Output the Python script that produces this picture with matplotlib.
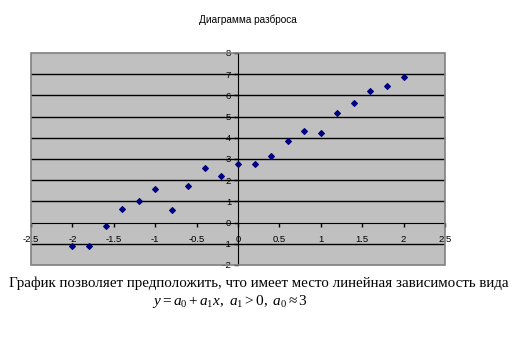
import matplotlib
matplotlib.use("Agg")
import matplotlib.pyplot as plt
from matplotlib.patches import Rectangle

# data
x_vals = [-2.0, -1.8, -1.6, -1.4, -1.2, -1.0, -0.8, -0.6, -0.4, -0.2, 0.0,
          0.2, 0.4, 0.6, 0.8, 1.0, 1.2, 1.4, 1.6, 1.8, 2.0]
y_vals = [-1.10, -1.09, -0.15, 0.66, 1.02, 1.60, 0.59, 1.71, 2.56, 2.21, 2.75,
          2.78, 3.12, 3.83, 4.31, 4.21, 5.15, 5.63, 6.21, 6.46, 6.85]
x_ticks = [-2.5, -2, -1.5, -1, -0.5, 0, 0.5, 1, 1.5, 2, 2.5]
x_labels = ["-2.5", "-2", "-1.5", "-1", "-0.5", "0", "0.5", "1", "1.5", "2", "2.5"]
y_ticks = list(range(-2, 9))

title = "Диаграмма разброса"
caption1 = "График позволяет предположить, что имеет место линейная зависимость вида"
caption2 = r"$y = a_0 + a_1x,\ a_1 > 0,\ a_0 \approx 3$"

plt.rcParams['font.family'] = ['Liberation Sans', 'DejaVu Sans']
plt.rcParams['mathtext.fontset'] = 'custom'
plt.rcParams['mathtext.rm'] = 'Liberation Serif'
plt.rcParams['mathtext.it'] = 'Liberation Serif:italic'

fig = plt.figure(figsize=(5.18, 3.6), dpi=100)
ax = fig.add_axes([31/518, 1 - 265/360, 414/518, 212/360])
ax.set_facecolor('#c0c0c0')

ax.set_xlim(-2.5, 2.5)
ax.set_ylim(-2, 8)

# horizontal gridlines
for yv in y_ticks:
    if yv not in (-2, 0, 8):
        ax.axhline(yv, color='black', lw=1, zorder=1)

ax.scatter(x_vals, y_vals, marker='D', s=8, color='#000080', zorder=3)

# axes through the origin
for side in ['top', 'right']:
    ax.spines[side].set_visible(False)
ax.spines['left'].set_position(('data', 0))
ax.spines['bottom'].set_position(('data', 0))
for side in ['left', 'bottom']:
    ax.spines[side].set_color('black')
    ax.spines[side].set_zorder(2)

# grey frame of the plot area
ax.add_patch(Rectangle((0, 0), 1, 1, transform=ax.transAxes, fill=False,
                       edgecolor='#808080', lw=1.2, clip_on=False, zorder=4))

ax.set_xticks(x_ticks)
ax.set_xticklabels(x_labels)
ax.set_yticks(y_ticks)
ax.tick_params(axis='both', labelsize=6.8, length=3, width=1, colors='black', pad=2)
ax.tick_params(axis='x', direction='out', pad=6)

fig.text(248/518, 1 - 20/360, title, ha='center', va='center', fontsize=7.2)
fig.text(259/518, 1 - 283/360, caption1, ha='center', va='center', fontsize=10.8,
         family='Liberation Serif')
fig.text(230/518, 1 - 302/360, caption2, ha='center', va='center', fontsize=11)

fig.savefig('out.png', dpi=100)
